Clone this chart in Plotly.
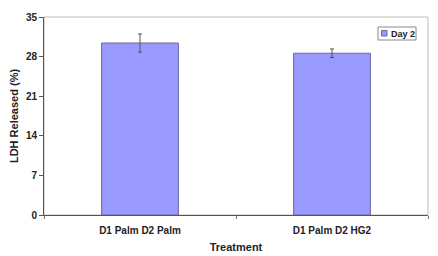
import plotly.graph_objects as go

categories = ["D1 Palm D2 Palm", "D1 Palm D2 HG2"]
values = [30.4, 28.6]
errors = [1.6, 0.75]
series_name = "Day 2"
y_ticks = [0, 7, 14, 21, 28, 35]

bar_color = "#9999FF"
bar_line = "#6B6B9E"

fig = go.Figure()
fig.add_trace(go.Bar(
    x=categories, y=values, name=series_name,
    marker=dict(color=bar_color, line=dict(color=bar_line, width=1)),
    error_y=dict(type="data", array=errors, visible=True, color="#555555", thickness=1, width=2),
))

# plot area in px: x 44..428, y 17..215
L, R, T, B = 44, 428, 17, 215
def px_x(v):
    return (v - L) / (R - L)
def px_y(v):
    return (B - v) / (B - T)

fig.update_layout(
    width=438, height=256,
    margin=dict(l=L, r=438 - R, t=T, b=256 - B),
    paper_bgcolor="white", plot_bgcolor="white",
    bargap=0.6,
    showlegend=False,
    font=dict(family="Arial, Liberation Sans, sans-serif", size=10, color="#222222"),
    xaxis=dict(
        title=dict(text="Treatment", font=dict(size=11, weight="bold"), standoff=8),
        tickfont=dict(size=10, weight="bold"),
        showline=True, linecolor="#555555", linewidth=1,
        ticks="outside", tickson="boundaries", ticklen=3, tickcolor="#777777",
        ticklabelstandoff=6, automargin=False,
        mirror=False, showgrid=False,
    ),
    yaxis=dict(
        title=dict(text="LDH Released (%)", font=dict(size=11, weight="bold"), standoff=5),
        tickfont=dict(size=10, weight="bold"),
        range=[0, 35], tickvals=y_ticks, automargin=False,
        showline=True, linecolor="#555555", linewidth=1,
        ticks="outside", ticklen=4, tickcolor="#555555",
        showgrid=False, zeroline=False,
    ),
    shapes=[
        dict(type="rect", xref="paper", yref="paper", x0=0, x1=1, y0=0, y1=1,
             line=dict(color="#BBBBBB", width=1), layer="below"),
        # legend box
        dict(type="rect", xref="paper", yref="paper",
             x0=px_x(378), x1=px_x(416), y0=px_y(40), y1=px_y(27),
             line=dict(color="#888888", width=1), fillcolor="white"),
        # legend swatch
        dict(type="rect", xref="paper", yref="paper",
             x0=px_x(381.5), x1=px_x(387), y0=px_y(36), y1=px_y(30.5),
             line=dict(color=bar_line, width=1), fillcolor=bar_color),
    ],
    annotations=[
        dict(text=series_name, xref="paper", yref="paper",
             x=px_x(389), y=px_y(33.5), xanchor="left", yanchor="middle",
             showarrow=False, font=dict(size=9, weight="bold", color="#222222")),
    ],
)

fig.write_html("out.html")
